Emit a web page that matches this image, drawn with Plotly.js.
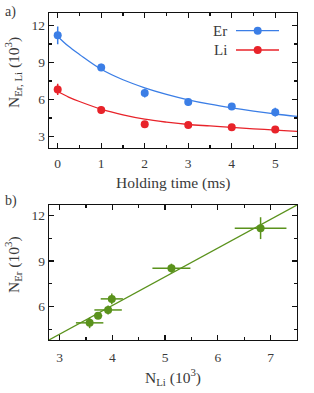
<!DOCTYPE html>
<html><head><meta charset="utf-8">
<script src="https://cdn.plot.ly/plotly-3.0.1.min.js"></script>
<style>html,body{margin:0;padding:0;background:#fff}#c{width:314px;height:393px}</style>
</head><body><div id="c"></div>
<script>
// Panel a data
var holdTime = [0, 1, 2, 3, 4, 5];
var erN = [11.19, 8.6, 6.52, 5.79, 5.43, 4.98];
var erErr = [0.72, 0.3, 0.35, 0.3, 0.2, 0.35];
var liN = [6.82, 5.15, 4.0, 3.94, 3.75, 3.58];
var liErr = [0.45, 0.3, 0.1, 0.15, 0.12, 0.2];
// fit curves
var fitT = [0, 0.25, 0.5, 1, 1.5, 2, 2.5, 3, 3.5, 4, 4.5, 5, 5.5];
var erFit = [11.1, 10.3, 9.65, 8.45, 7.6, 6.95, 6.42, 5.98, 5.62, 5.32, 5.06, 4.83, 4.63];
var liFit = [6.65, 6.2, 5.84, 5.22, 4.76, 4.41, 4.17, 3.98, 3.86, 3.74, 3.63, 3.53, 3.42];
// Panel b data
var bLi = [6.81, 5.12, 3.99, 3.92, 3.73, 3.57];
var bLiErr = [0.49, 0.36, 0.21, 0.26, 0.08, 0.26];
var bEr = [11.17, 8.53, 6.51, 5.78, 5.4, 4.93];
var bErErr = [0.72, 0.3, 0.35, 0.3, 0.2, 0.35];
var lineLi = [2.8, 7.5];
var lineEr = [3.8, 12.7];

var blue = '#3b7ee6', red = '#e8232a', green = '#5a921c';
var F = 'Liberation Serif, serif';
var TC = '#3a3a3a';

var traces = [
 {x: fitT, y: erFit, mode: 'lines', line: {color: blue, width: 1.3, shape: 'spline'}, xaxis: 'x', yaxis: 'y', hoverinfo: 'skip'},
 {x: fitT, y: liFit, mode: 'lines', line: {color: red, width: 1.3, shape: 'spline'}, xaxis: 'x', yaxis: 'y', hoverinfo: 'skip'},
 {x: holdTime, y: erN, mode: 'markers', marker: {color: blue, size: 8},
  error_y: {type: 'data', array: erErr, visible: true, width: 0, thickness: 1.5, color: blue}, xaxis: 'x', yaxis: 'y'},
 {x: holdTime, y: liN, mode: 'markers', marker: {color: red, size: 8},
  error_y: {type: 'data', array: liErr, visible: true, width: 0, thickness: 1.5, color: red}, xaxis: 'x', yaxis: 'y'},
 {x: lineLi, y: lineEr, mode: 'lines', line: {color: green, width: 1.2}, xaxis: 'x2', yaxis: 'y2'},
 {x: bLi, y: bEr, mode: 'markers', marker: {color: green, size: 8},
  error_x: {type: 'data', array: bLiErr, visible: true, width: 0, thickness: 1.5, color: green},
  error_y: {type: 'data', array: bErErr, visible: true, width: 0, thickness: 1.5, color: green}, xaxis: 'x2', yaxis: 'y2'}
];

function minorT(d) { return {ticks: 'inside', ticklen: 3, tickwidth: 1.2, tickcolor: '#111', dtick: d, tick0: 0, showgrid: false}; }
function ax(o) {
  return Object.assign({
    showline: true, linecolor: '#111', linewidth: 1.3, mirror: 'allticks',
    ticks: 'inside', ticklen: 5, tickwidth: 1.2, tickcolor: '#111',
    showgrid: false, zeroline: false, tickfont: {family: F, size: 13.5, color: TC}
  }, o);
}

function px(p) { return (p - 49) / 248; }
function py(p) { return (340 - p) / 327; }

var layout = {
  width: 314, height: 393, showlegend: false,
  margin: {l: 49, r: 17, t: 13, b: 53},
  paper_bgcolor: '#fff', plot_bgcolor: '#fff',
  xaxis: ax({domain: [0, 1], range: [-0.2, 5.5], tickvals: [0,1,2,3,4,5], minor: minorT(0.5), anchor: 'y', ticklabelstandoff: 3}),
  yaxis: ax({domain: [0.588, 1], range: [2.1, 13], tickvals: [3,6,9,12], minor: minorT(1.5), anchor: 'x'}),
  xaxis2: ax({domain: [0, 1], range: [2.8, 7.5], tickvals: [3,4,5,6,7], minor: minorT(0.5), anchor: 'y2', ticklabelstandoff: 4}),
  yaxis2: ax({domain: [0, 0.413], range: [3.8, 12.7], tickvals: [6,9,12], minor: minorT(1.5), anchor: 'x2'}),
  annotations: [
    {text: 'a)', x: px(3), y: py(12), xref: 'paper', yref: 'paper', xanchor: 'left', yanchor: 'middle', showarrow: false, font: {family: F, size: 14, color: TC}},
    {text: 'b)', x: px(3), y: py(201), xref: 'paper', yref: 'paper', xanchor: 'left', yanchor: 'middle', showarrow: false, font: {family: F, size: 14, color: TC}},
    {text: 'Holding time (ms)', x: 0.5, y: py(183), xref: 'paper', yref: 'paper', xanchor: 'center', yanchor: 'middle', showarrow: false, font: {family: F, size: 15.5, color: TC}},
    {text: 'N<sub>Li</sub> (10<sup>3</sup>)', x: 0.5, y: py(377), xref: 'paper', yref: 'paper', xanchor: 'center', yanchor: 'middle', showarrow: false, font: {family: F, size: 15.5, color: TC}},
    {text: 'N<sub>Er, Li</sub> (10<sup>3</sup>)', x: px(13), y: py(73), xref: 'paper', yref: 'paper', xanchor: 'center', yanchor: 'middle', textangle: -90, showarrow: false, font: {family: F, size: 15.5, color: TC}},
    {text: 'N<sub>Er</sub> (10<sup>3</sup>)', x: px(13), y: py(265), xref: 'paper', yref: 'paper', xanchor: 'center', yanchor: 'middle', textangle: -90, showarrow: false, font: {family: F, size: 15.5, color: TC}},
    {text: 'Er', x: px(229), y: py(31), xref: 'paper', yref: 'paper', xanchor: 'right', yanchor: 'middle', showarrow: false, font: {family: F, size: 15, color: TC}},
    {text: 'Li', x: px(229), y: py(50), xref: 'paper', yref: 'paper', xanchor: 'right', yanchor: 'middle', showarrow: false, font: {family: F, size: 15, color: TC}}
  ],
  shapes: [
    {type: 'line', xref: 'paper', yref: 'paper', x0: px(236), x1: px(279), y0: py(30.7), y1: py(30.7), line: {color: blue, width: 1.3}},
    {type: 'circle', xref: 'paper', yref: 'paper', xsizemode: 'pixel', ysizemode: 'pixel', xanchor: px(257.7), yanchor: py(30.7), x0: -4, x1: 4, y0: -4, y1: 4, fillcolor: blue, line: {width: 0}},
    {type: 'line', xref: 'paper', yref: 'paper', x0: px(236), x1: px(279), y0: py(50), y1: py(50), line: {color: red, width: 1.3}},
    {type: 'circle', xref: 'paper', yref: 'paper', xsizemode: 'pixel', ysizemode: 'pixel', xanchor: px(257.7), yanchor: py(50), x0: -4, x1: 4, y0: -4, y1: 4, fillcolor: red, line: {width: 0}}
  ]
};

Plotly.newPlot('c', traces, layout, {displayModeBar: false, staticPlot: true});
</script></body></html>
